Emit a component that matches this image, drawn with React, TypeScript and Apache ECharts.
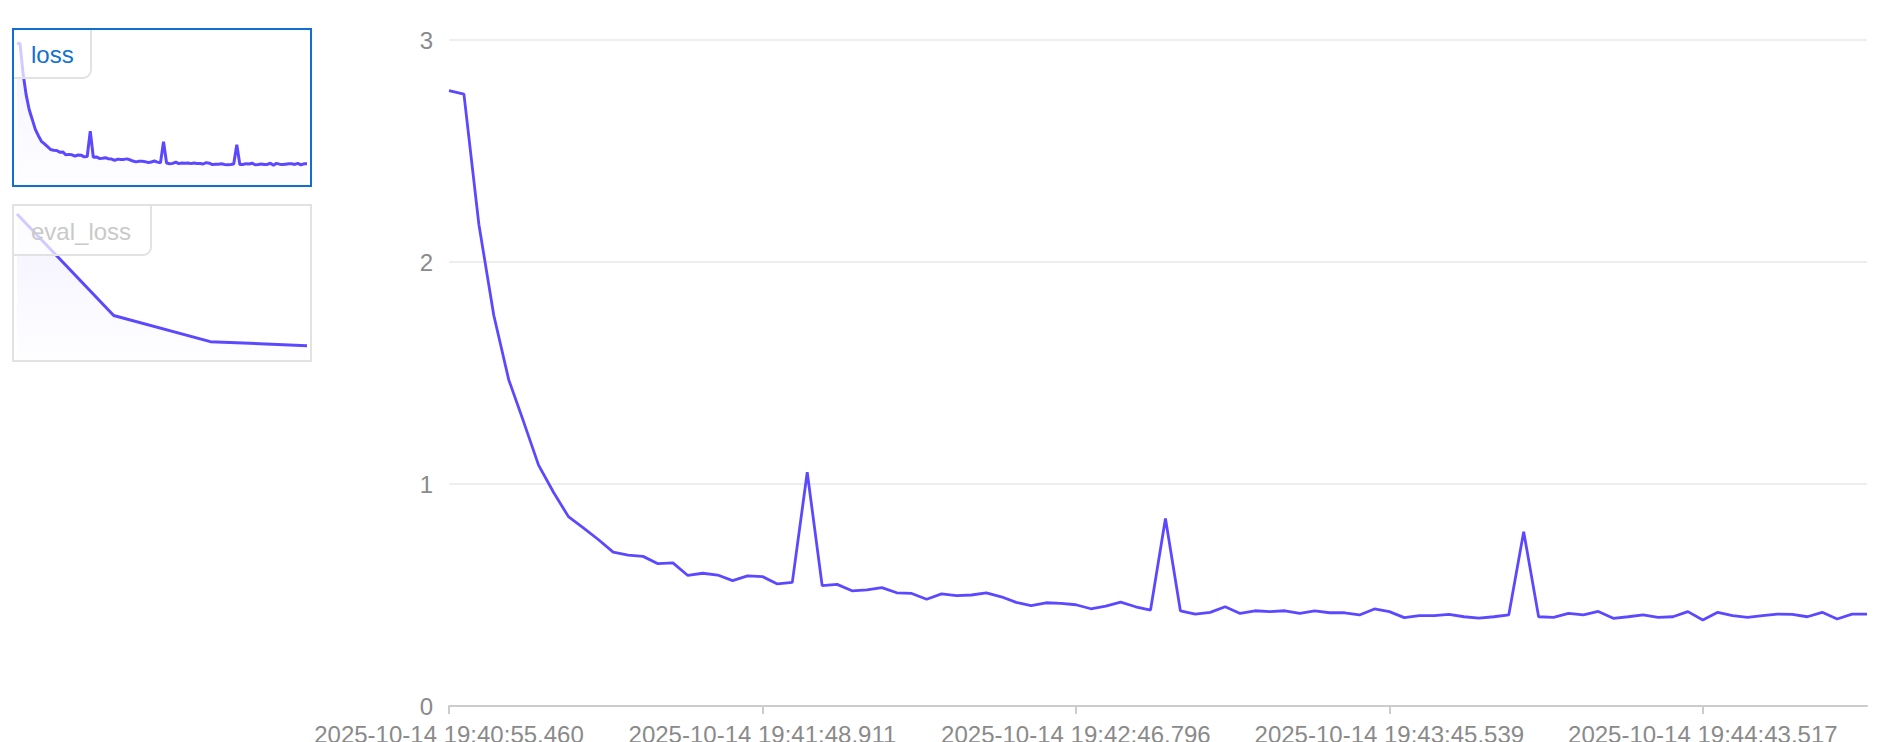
import React, { useEffect, useRef } from "react";
import * as echarts from "echarts";

// training loss per logged step (96 steps, 4 epochs)
const lossValues: number[] = [
  2.772, 2.756, 2.17, 1.76, 1.47, 1.28, 1.085, 0.963, 0.853, 0.802,
  0.75, 0.693, 0.68, 0.674, 0.641, 0.645, 0.588, 0.598, 0.59, 0.565,
  0.586, 0.583, 0.55, 0.557, 1.053, 0.542, 0.548, 0.519, 0.523, 0.533,
  0.51, 0.507, 0.481, 0.505, 0.497, 0.5, 0.51, 0.492, 0.467, 0.452,
  0.465, 0.462, 0.456, 0.438, 0.45, 0.468, 0.447, 0.432, 0.845, 0.429,
  0.414, 0.422, 0.447, 0.417, 0.429, 0.425, 0.429, 0.417, 0.428, 0.42,
  0.42, 0.41, 0.437, 0.425, 0.398, 0.407, 0.407, 0.413, 0.402, 0.396,
  0.402, 0.41, 0.785, 0.402, 0.399, 0.417, 0.41, 0.426, 0.395, 0.402,
  0.41, 0.399, 0.402, 0.425, 0.387, 0.422, 0.407, 0.399, 0.407, 0.414,
  0.413, 0.402, 0.422, 0.392, 0.414, 0.414,
];

// eval loss, one value per epoch
const evalLossValues: number[] = [0.93, 0.283, 0.117, 0.091];

// timestamps shown under the main chart (every 21st step)
const tickLabels: string[] = [
  "2025-10-14 19:40:55.460",
  "2025-10-14 19:41:48.911",
  "2025-10-14 19:42:46.796",
  "2025-10-14 19:43:45.539",
  "2025-10-14 19:44:43.517",
];
const tickEvery = 21;

const stepCategories: number[] = lossValues.map((_, i) => i);
const evalCategories: number[] = evalLossValues.map((_, i) => i);

const LINE = "#5c49ff";
const FONT = 'Helvetica, Arial, "Liberation Sans", sans-serif';

export default function App() {
  const ref = useRef<HTMLDivElement | null>(null);

  useEffect(() => {
    if (!ref.current) return;
    const chart = echarts.init(ref.current, undefined, { renderer: "svg" });

    const areaGrad = () =>
      new echarts.graphic.LinearGradient(0, 0, 0, 1, [
        { offset: 0, color: "rgba(92,73,255,0.10)" },
        { offset: 1, color: "rgba(92,73,255,0.01)" },
      ]);

    chart.setOption({
      animation: false,
      backgroundColor: "#ffffff",
      textStyle: { fontFamily: FONT },
      grid: [
        { left: 449, top: 40, right: 25, bottom: 36, containLabel: false, outerBoundsMode: "none" },
        { left: 17, top: 43, width: 290, height: 142, containLabel: false, outerBoundsMode: "none" },
        { left: 17, top: 214, width: 290, height: 146, containLabel: false, outerBoundsMode: "none" },
      ],
      xAxis: [
        {
          type: "category",
          gridIndex: 0,
          data: stepCategories,
          boundaryGap: false,
          axisLine: { lineStyle: { color: "#cccccc", width: 2 } },
          axisTick: {
            interval: tickEvery - 1,
            length: 8,
            lineStyle: { color: "#cccccc", width: 2 },
          },
          axisLabel: {
            interval: tickEvery - 1,
            margin: 16,
            fontSize: 24,
            color: "#8a8a8a",
            fontFamily: FONT,
            formatter: (_v: string, idx: number) =>
              idx % tickEvery === 0 ? tickLabels[idx / tickEvery] ?? "" : "",
          },
          splitLine: { show: false },
        },
        { type: "category", gridIndex: 1, data: stepCategories, boundaryGap: false, show: false },
        { type: "category", gridIndex: 2, data: evalCategories, boundaryGap: false, show: false },
      ],
      yAxis: [
        {
          type: "value",
          gridIndex: 0,
          min: 0,
          max: 3,
          interval: 1,
          axisLine: { show: false },
          axisTick: { show: false },
          axisLabel: { margin: 16, fontSize: 24, color: "#8a8a8a", fontFamily: FONT },
          splitLine: { lineStyle: { color: "#eeeeee", width: 2 } },
        },
        { type: "value", gridIndex: 1, min: 0, max: "dataMax", show: false, splitLine: { show: false } },
        { type: "value", gridIndex: 2, min: 0, max: "dataMax", show: false, splitLine: { show: false } },
      ],
      series: [
        {
          type: "line",
          xAxisIndex: 0,
          yAxisIndex: 0,
          data: lossValues,
          showSymbol: false,
          symbol: "none",
          lineStyle: { color: LINE, width: 2.8 },
          itemStyle: { color: LINE },
        },
        {
          type: "line",
          xAxisIndex: 1,
          yAxisIndex: 1,
          data: lossValues,
          symbol: "none",
          lineStyle: { color: LINE, width: 3 },
          areaStyle: { color: areaGrad() },
          z: 2,
        },
        {
          type: "line",
          xAxisIndex: 2,
          yAxisIndex: 2,
          data: evalLossValues,
          symbol: "none",
          lineStyle: { color: LINE, width: 3 },
          areaStyle: { color: areaGrad() },
          z: 2,
        },
      ],
      graphic: [
        // loss thumbnail label box
        {
          type: "rect",
          z: 10,
          shape: { x: 13, y: 29, width: 78, height: 49, r: [0, 0, 8, 0] },
          style: { fill: "rgba(255,255,255,0.72)", stroke: "#e2e2e2", lineWidth: 2 },
        },
        {
          type: "rect",
          z: 11,
          shape: { x: 13, y: 29, width: 298, height: 157 },
          style: { fill: "none", stroke: "#1170cf", lineWidth: 2 },
        },
        {
          type: "text",
          z: 12,
          x: 31,
          y: 54,
          style: {
            text: "loss",
            fill: "#1170cf",
            font: `24px ${FONT}`,
            textVerticalAlign: "middle",
            verticalAlign: "middle",
          },
        },
        // eval_loss thumbnail label box
        {
          type: "rect",
          z: 10,
          shape: { x: 13, y: 205, width: 138, height: 50, r: [0, 0, 8, 0] },
          style: { fill: "rgba(255,255,255,0.72)", stroke: "#e2e2e2", lineWidth: 2 },
        },
        {
          type: "rect",
          z: 11,
          shape: { x: 13, y: 205, width: 298, height: 156 },
          style: { fill: "none", stroke: "#e2e2e2", lineWidth: 2 },
        },
        {
          type: "text",
          z: 12,
          x: 31,
          y: 231,
          style: {
            text: "eval_loss",
            fill: "#c9c9c9",
            font: `24px ${FONT}`,
            textVerticalAlign: "middle",
            verticalAlign: "middle",
          },
        },
      ],
    });

    const onResize = () => chart.resize();
    window.addEventListener("resize", onResize);
    return () => {
      window.removeEventListener("resize", onResize);
      chart.dispose();
    };
  }, []);

  return (
    <div
      ref={ref}
      style={{ position: "fixed", left: 0, top: 0, width: "1892px", height: "742px", background: "#fff" }}
    />
  );
}
